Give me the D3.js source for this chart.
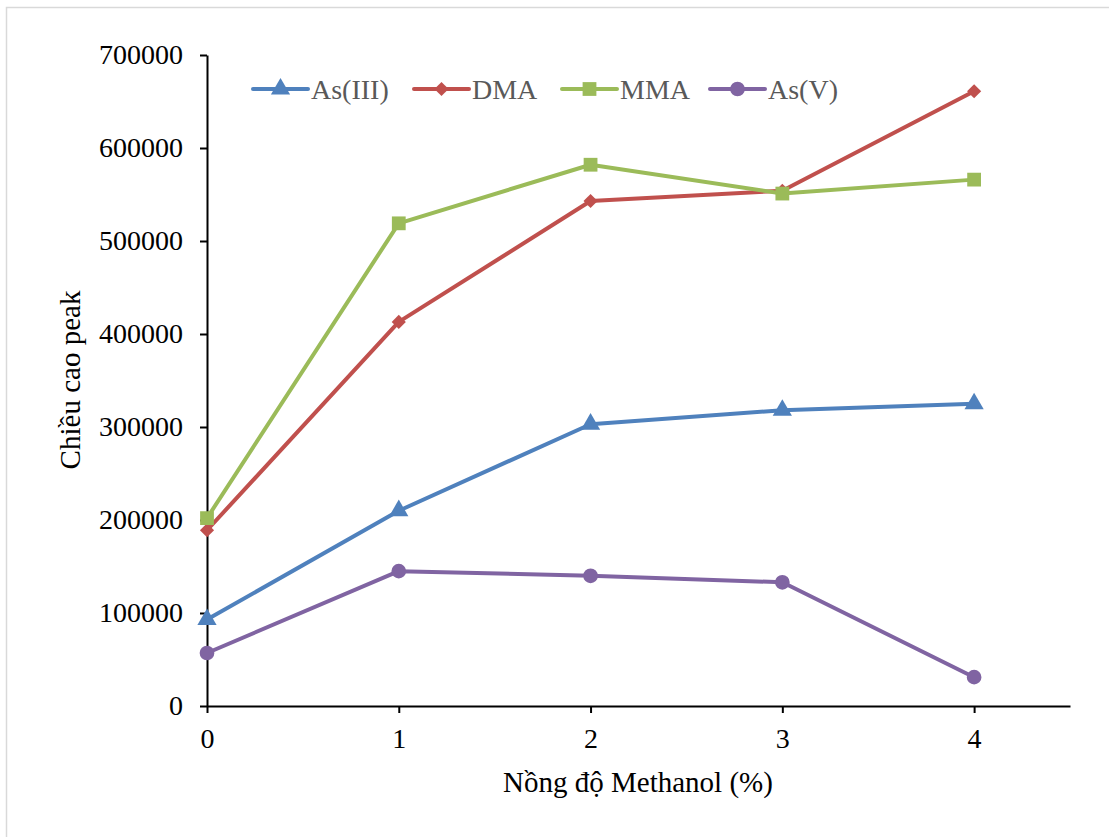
<!DOCTYPE html>
<html lang="vi">
<head>
<meta charset="UTF-8">
<title>Chiều cao peak theo nồng độ Methanol</title>
<script src="https://d3js.org/d3.v7.min.js"></script>
<style>
  html, body { margin: 0; padding: 0; background: #fff; }
  svg { display: block; font-family: "Liberation Serif", "Times New Roman", serif; }
</style>
</head>
<body>
<svg id="chart"></svg>
<script>
// Data
const methanol = [0, 1, 2, 3, 4];
const xTicks = [0, 1, 2, 3, 4];
const yTicks = [0, 100000, 200000, 300000, 400000, 500000, 600000, 700000];
const seriesNames = ["As(III)", "DMA", "MMA", "As(V)"];
const asIII = [93000, 210000, 303000, 318000, 325000];
const dma   = [189000, 413000, 543000, 554000, 661000];
const mma   = [202000, 519000, 582000, 551000, 566000];
const asV   = [57000, 145000, 140000, 133000, 31000];

const colors = ["#4f81bd", "#c0504d", "#9bbb59", "#8064a2"];
// DMA uses a square turned 45deg, like Excel's diamond marker
const symbols = [d3.symbolTriangle, d3.symbolSquare, d3.symbolSquare, d3.symbolCircle];
const symSizes = [160, 100, 190, 170];
const symRotate = [0, 45, 0, 0];

const series = seriesNames.map((name, i) => ({
    name: name,
    values: [asIII, dma, mma, asV][i],
    color: colors[i],
    symbol: symbols[i],
    size: symSizes[i],
    rot: symRotate[i]
}));

const width = 1109, height = 837;
const svg = d3.select("#chart").attr("width", width).attr("height", height);

// outer frame (only top/left edges visible in the original)
svg.append("rect")
    .attr("x", 6.5).attr("y", 7.5)
    .attr("width", width + 10).attr("height", height + 10)
    .attr("fill", "none").attr("stroke", "#d9d9d9").attr("stroke-width", 1.5);

const x = d3.scaleLinear().domain([0, 4.5]).range([207, 1070]);
const y = d3.scaleLinear().domain([0, 700000]).range([706, 55]);

// x axis
const gx = svg.append("g")
    .attr("transform", `translate(0,${y(0)})`)
    .call(d3.axisBottom(x).tickValues(xTicks).tickSize(7).tickSizeOuter(0).tickFormat(d3.format("d")));
gx.select(".domain").attr("stroke", "#000").attr("stroke-width", 2);
gx.selectAll(".tick line").attr("stroke", "#000").attr("stroke-width", 2);
gx.selectAll(".tick text")
    .attr("font-family", "Liberation Serif, serif")
    .attr("font-size", 28).attr("fill", "#000")
    .attr("y", 42).attr("dy", 0);

// y axis
const gy = svg.append("g")
    .attr("transform", `translate(${x(0)},0)`)
    .call(d3.axisLeft(y).tickValues(yTicks).tickSize(7).tickSizeOuter(0).tickFormat(d3.format("d")));
gy.select(".domain").attr("stroke", "#000").attr("stroke-width", 2);
gy.selectAll(".tick line").attr("stroke", "#000").attr("stroke-width", 2);
gy.selectAll(".tick text")
    .attr("font-family", "Liberation Serif, serif")
    .attr("font-size", 28).attr("fill", "#000").attr("x", -24);

// axis titles
svg.append("text")
    .attr("x", 638).attr("y", 792)
    .attr("text-anchor", "middle")
    .attr("font-size", 29).attr("fill", "#000")
    .text("Nồng độ Methanol (%)");

svg.append("text")
    .attr("transform", `translate(80,380) rotate(-90)`)
    .attr("text-anchor", "middle")
    .attr("font-size", 29).attr("fill", "#000")
    .text("Chiều cao peak");

// lines and markers
const line = d3.line().x((d, i) => x(methanol[i])).y(d => y(d));

series.forEach(s => {
    const g = svg.append("g");
    g.append("path")
        .attr("d", line(s.values))
        .attr("fill", "none")
        .attr("stroke", s.color)
        .attr("stroke-width", 4)
        .attr("stroke-linejoin", "round");
    g.selectAll("path.marker")
        .data(s.values)
        .enter().append("path")
        .attr("class", "marker")
        .attr("d", d3.symbol().type(s.symbol).size(s.size))
        .attr("transform", (d, i) => `translate(${x(methanol[i])},${y(d)}) rotate(${s.rot})`)
        .attr("fill", s.color);
});

// legend
const legendX = [253, 414, 562, 710];
const legend = svg.append("g").attr("transform", "translate(0,89)");
series.forEach((s, i) => {
    const lx = legendX[i];
    legend.append("line")
        .attr("x1", lx).attr("x2", lx + 55)
        .attr("y1", 0).attr("y2", 0)
        .attr("stroke", s.color).attr("stroke-width", 4)
        .attr("stroke-linecap", "round");
    legend.append("path")
        .attr("d", d3.symbol().type(s.symbol).size(s.size))
        .attr("transform", `translate(${lx + 27.5},0) rotate(${s.rot})`)
        .attr("fill", s.color);
    legend.append("text")
        .attr("x", lx + 58).attr("y", 10)
        .attr("font-size", 28).attr("fill", "#595959")
        .text(s.name);
});
</script>
</body>
</html>
